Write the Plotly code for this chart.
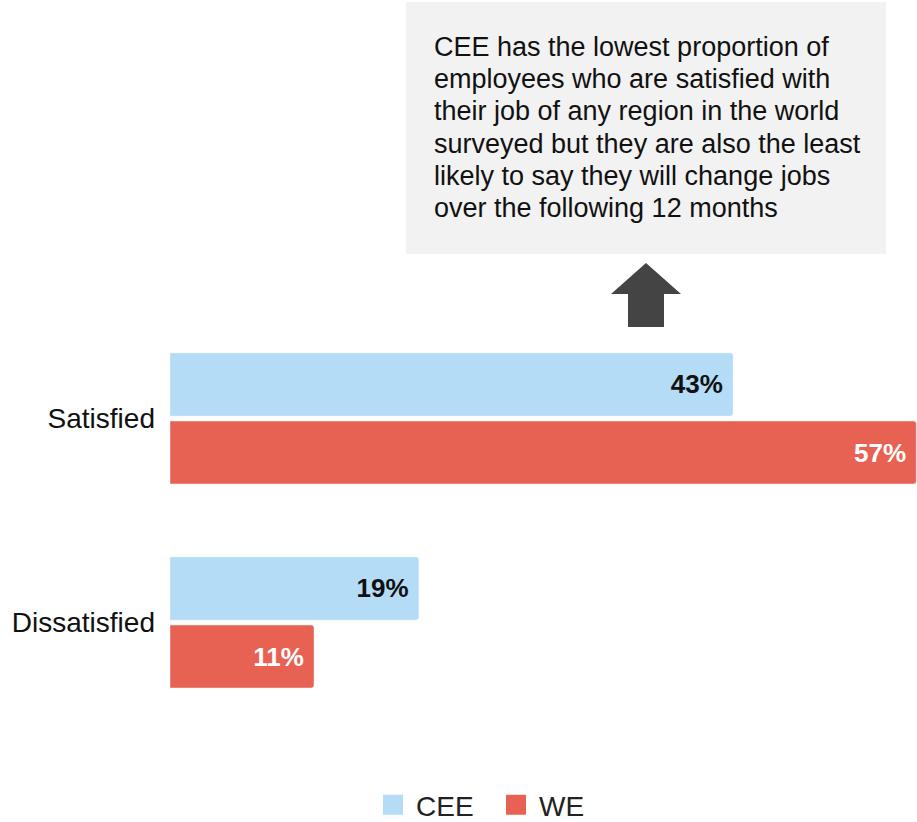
import plotly.graph_objects as go

# Job satisfaction by region
categories = ["Satisfied", "Dissatisfied"]
cee_values = [43, 19]
we_values = [57, 11]
series_names = ["CEE", "WE"]
note_lines = [
    "CEE has the lowest proportion of",
    "employees who are satisfied with",
    "their job of any region in the world",
    "surveyed but they are also the least",
    "likely to say they will change jobs",
    "over the following 12 months",
]

CEE_COLOR = "#B4DCF6"
WE_COLOR = "#E86253"
TEXT = "#111111"
SANS = "Liberation Sans"

W, H = 917, 822
# plot area in pixels (left, right, top, bottom)
PL, PR, PT, PB = 170, 917, 316.5, 724.5


def fx(x):
    return x / W


def fy(y):
    return 1 - y / H


fig = go.Figure()
label_font = dict(family=SANS, size=26)
fig.add_trace(go.Bar(
    name=series_names[0], y=categories, x=cee_values, orientation="h",
    marker=dict(color=CEE_COLOR, cornerradius=3),
    text=[f"<b>{v}%</b>\u00a0" for v in cee_values], textposition="inside",
    insidetextanchor="end", textfont=dict(color=TEXT, **label_font),
    hoverinfo="skip", showlegend=False,
))
fig.add_trace(go.Bar(
    name=series_names[1], y=categories, x=we_values, orientation="h",
    marker=dict(color=WE_COLOR, cornerradius=3),
    text=[f"<b>{v}%</b>\u00a0" for v in we_values], textposition="inside",
    insidetextanchor="end", textfont=dict(color="#FFFFFF", **label_font),
    hoverinfo="skip", showlegend=False,
))

# legend entries with larger square swatches
for name, color in zip(series_names, [CEE_COLOR, WE_COLOR]):
    fig.add_trace(go.Scatter(
        x=[None], y=[None], mode="markers", name=name,
        marker=dict(symbol="square", size=16, color=color,
                    line=dict(color=color, width=4)),
        hoverinfo="skip", showlegend=True,
    ))

# Note box with an arrow pointing up to it
arrow_pts = [(646, 263), (681, 294), (664, 294), (664, 327),
             (628, 327), (628, 294), (611, 294)]
arrow_path = "M " + " L ".join(f"{fx(x)} {fy(y)}" for x, y in arrow_pts) + " Z"
shapes = [
    dict(type="rect", xref="paper", yref="paper",
         x0=fx(406), x1=fx(886), y0=fy(254), y1=fy(2),
         fillcolor="#F2F2F2", line=dict(width=0), layer="below"),
    dict(type="path", xref="paper", yref="paper", path=arrow_path,
         fillcolor="#444444", line=dict(width=0)),
]

annotations = [
    dict(xref="paper", yref="paper", x=fx(432), y=fy(47 + 32.2 * i),
         xanchor="left", yanchor="middle", align="left", showarrow=False,
         text=line, font=dict(family=SANS, size=27, color=TEXT))
    for i, line in enumerate(note_lines)
]

fig.update_layout(
    width=W, height=H,
    margin=dict(l=0, r=0, t=0, b=0, pad=0, autoexpand=False),
    paper_bgcolor="white", plot_bgcolor="white",
    barmode="group", bargap=0.333, bargroupgap=0.074,
    font=dict(family=SANS, color=TEXT),
    xaxis=dict(domain=[fx(PL), fx(PR)], range=[0, 57.05], visible=False,
               fixedrange=True),
    yaxis=dict(domain=[fy(PB), fy(PT)], autorange="reversed", automargin=False,
               showgrid=False, zeroline=False, showline=False, ticks="",
               ticklabelstandoff=14,
               tickfont=dict(family=SANS, size=28, color=TEXT)),
    legend=dict(orientation="h", x=fx(493), xanchor="center",
                y=fy(805), yanchor="middle",
                font=dict(family=SANS, size=28, color="#222222"),
                itemsizing="trace", itemwidth=36, entrywidth=72),
    shapes=shapes,
    annotations=annotations,
    uniformtext=dict(minsize=26, mode="show"),
)

fig.write_html("out.html")
